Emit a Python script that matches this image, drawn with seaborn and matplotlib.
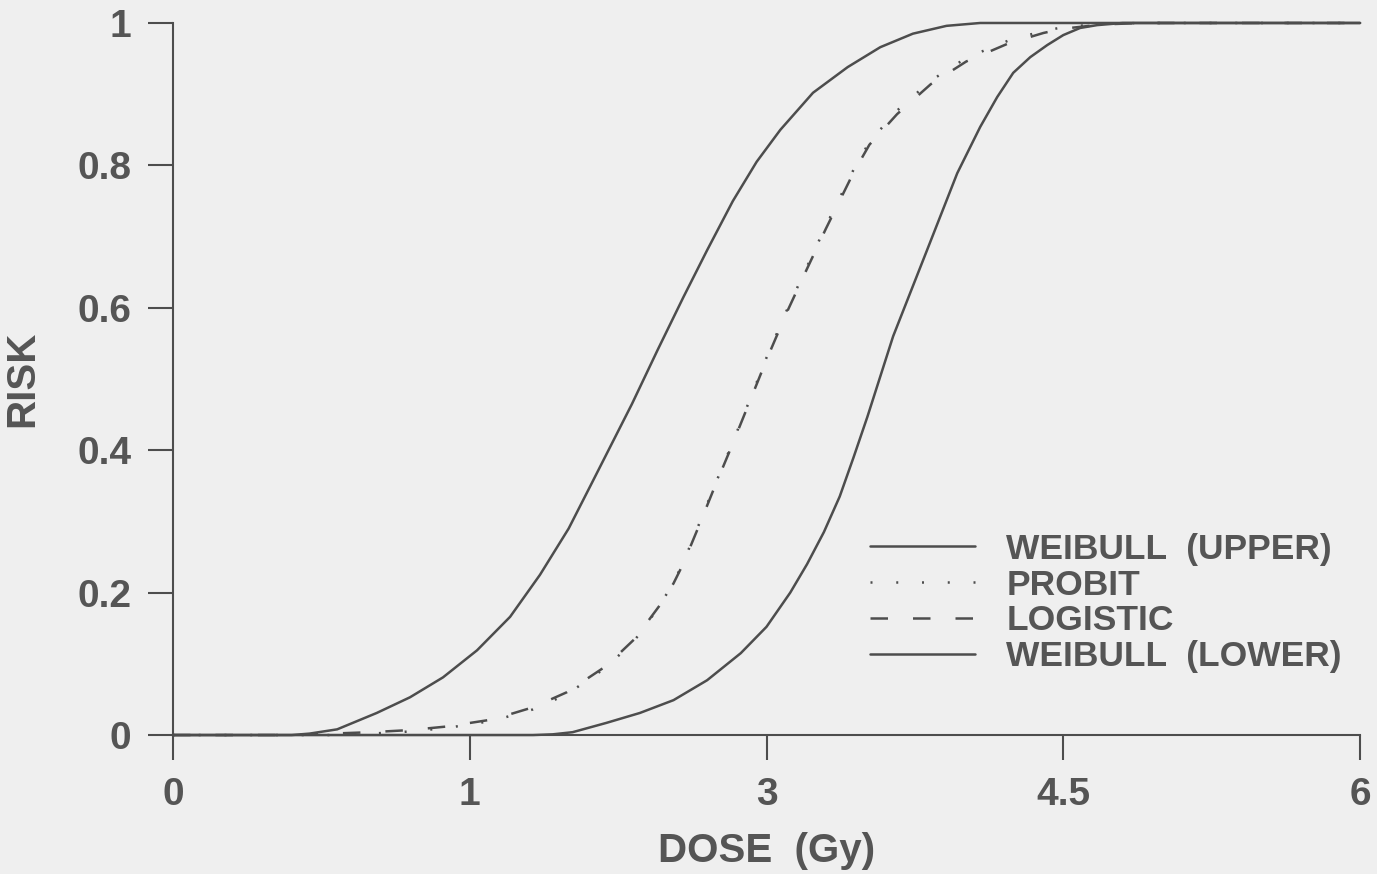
import matplotlib
matplotlib.use("Agg")
import matplotlib.pyplot as plt
import seaborn as sns
import pandas as pd

# Dose-response curves: x in axis units (ticks equally spaced), y = risk
weibull_upper_x = [0.0, 0.60, 0.69, 0.83, 1.03, 1.198, 1.365, 1.537, 1.704, 1.855, 2.00,
                   2.11, 2.32, 2.45, 2.58, 2.70, 2.83, 2.95, 3.07, 3.235, 3.41, 3.575,
                   3.74, 3.91, 4.08, 6.0]
weibull_upper_y = [0.0, 0.0, 0.002, 0.008, 0.031, 0.053, 0.081, 0.119, 0.166, 0.225, 0.29,
                   0.35, 0.465, 0.541, 0.615, 0.681, 0.75, 0.805, 0.85, 0.902, 0.938, 0.966,
                   0.985, 0.996, 1.0, 1.0]

probit_x = [0.0, 0.8, 1.0, 1.2, 1.385, 1.618, 1.82, 1.99, 2.19, 2.33, 2.38, 2.46, 2.53,
            2.58, 2.65, 2.73, 2.82, 2.90, 3.00, 3.10, 3.20, 3.30, 3.44, 3.52, 3.66,
            3.83, 4.01, 4.22, 4.40, 4.50, 4.70, 4.90, 6.0]
probit_y = [0.0, 0.0, 0.002, 0.005, 0.010, 0.020, 0.036, 0.057, 0.095, 0.132, 0.15, 0.182,
            0.214, 0.243, 0.29, 0.345, 0.405, 0.46, 0.53, 0.595, 0.655, 0.715, 0.794,
            0.833, 0.877, 0.919, 0.951, 0.975, 0.989, 0.994, 0.999, 1.0, 1.0]

logistic_x = [0.0, 0.6, 1.0, 1.2, 1.385, 1.618, 1.82, 1.99, 2.19, 2.33, 2.38, 2.46, 2.53,
              2.58, 2.65, 2.73, 2.82, 2.90, 3.00, 3.10, 3.20, 3.30, 3.44, 3.52, 3.66,
              3.83, 4.01, 4.22, 4.40, 4.50, 4.70, 4.90, 6.0]
logistic_y = [0.0, 0.0, 0.004, 0.007, 0.012, 0.022, 0.039, 0.060, 0.097, 0.134, 0.152, 0.182,
              0.213, 0.241, 0.288, 0.343, 0.403, 0.458, 0.527, 0.592, 0.652, 0.711, 0.79,
              0.829, 0.872, 0.914, 0.946, 0.971, 0.986, 0.992, 0.998, 1.0, 1.0]

weibull_lower_x = [0.0, 1.82, 1.92, 2.02, 2.19, 2.36, 2.53, 2.70, 2.87, 3.00, 3.12, 3.205,
                   3.29, 3.37, 3.44, 3.51, 3.64, 3.81, 3.964, 4.08, 4.166, 4.247, 4.333,
                   4.419, 4.50, 4.585, 4.671, 4.80, 6.0]
weibull_lower_y = [0.0, 0.0, 0.001, 0.004, 0.017, 0.031, 0.049, 0.077, 0.115, 0.152, 0.2, 0.24,
                   0.285, 0.335, 0.39, 0.447, 0.56, 0.68, 0.789, 0.854, 0.896, 0.93, 0.952,
                   0.969, 0.983, 0.993, 0.997, 1.0, 1.0]

series_labels = ["WEIBULL  (UPPER)", "PROBIT", "LOGISTIC", "WEIBULL  (LOWER)"]

x_tick_pos = [0, 1.5, 3, 4.5, 6]
x_tick_labels = ["0", "1", "3", "4.5", "6"]
y_ticks = [0, 0.2, 0.4, 0.6, 0.8, 1]
y_tick_labels = ["0", "0.2", "0.4", "0.6", "0.8", "1"]

sns.set_theme(style="ticks")
plt.rcParams["font.family"] = ["Liberation Sans", "DejaVu Sans"]
plt.rcParams["font.weight"] = "bold"

ink = "#4d4d4d"
text_ink = "#555555"
bg = "#efefef"

fig = plt.figure(figsize=(13.77, 8.74), dpi=100, facecolor=bg)
ax = fig.add_axes([0.1256, 0.159, 0.8621, 0.8147])
ax.set_facecolor(bg)

line_kw = dict(color=ink, linewidth=1.8, clip_on=False)
styles = ["-", (0, (0.8, 9.5)), (0, (7, 10)), "-"]
xs = [weibull_upper_x, probit_x, logistic_x, weibull_lower_x]
ys = [weibull_upper_y, probit_y, logistic_y, weibull_lower_y]

for x, y, lab, ls in zip(xs, ys, series_labels, styles):
    df = pd.DataFrame({"dose": x, "risk": y})
    sns.lineplot(data=df, x="dose", y="risk", ax=ax, label=lab,
                 linestyle=ls, sort=False, estimator=None, **line_kw)

ax.set_xlim(0, 6)
ax.set_ylim(0, 1)
ax.set_xticks(x_tick_pos)
ax.set_xticklabels(x_tick_labels)
ax.set_yticks(y_ticks)
ax.set_yticklabels(y_tick_labels)

for side in ["top", "right"]:
    ax.spines[side].set_visible(False)
for side in ["left", "bottom"]:
    ax.spines[side].set_color(ink)
    ax.spines[side].set_linewidth(1.5)

ax.tick_params(axis="both", direction="out", length=18, width=1.5, color=ink,
               labelcolor=text_ink, labelsize=28, pad=12)

ax.set_xlabel("DOSE  (Gy)", fontsize=29, color=text_ink, labelpad=14, fontweight="bold")
ax.set_ylabel("RISK", fontsize=29, color=text_ink, labelpad=26, fontweight="bold")

leg = ax.legend(loc="upper left", bbox_to_anchor=(0.587, 0.284), frameon=False,
                prop={"size": 25.5, "weight": "bold"}, handlelength=2.96,
                handletextpad=0.9, labelspacing=0.08, borderaxespad=0, borderpad=0)
for t in leg.get_texts():
    t.set_color(text_ink)

fig.savefig("out.png", dpi=100, facecolor=bg)
